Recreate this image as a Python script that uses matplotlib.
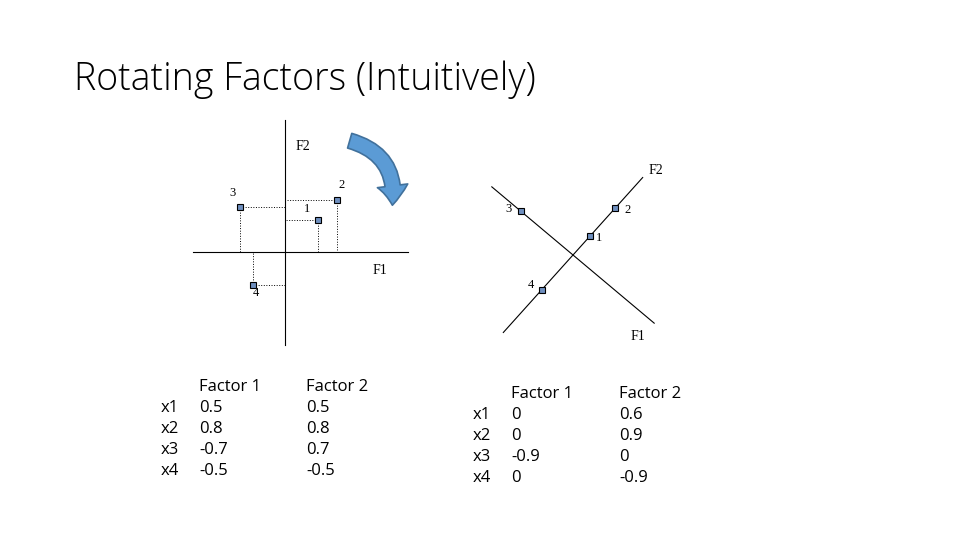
import numpy as np
import matplotlib
matplotlib.use('Agg')
import matplotlib.pyplot as plt

# Daten
variablen = ["x1", "x2", "x3", "x4"]
punkt_namen = ["1", "2", "3", "4"]
faktor1 = [0.5, 0.8, -0.7, -0.5]
faktor2 = [0.5, 0.8, 0.7, -0.5]
faktor1_rot = ["0", "0", "-0.9", "0"]
faktor2_rot = ["0.6", "0.9", "0", "-0.9"]
faktor1_txt = ["0.5", "0.8", "-0.7", "-0.5"]
faktor2_txt = ["0.5", "0.8", "0.7", "-0.5"]
# Lage der Punkte im rotierten Bild
rot_f1_bild = [0.0, 0.0, -0.97, 0.0]
rot_f2_bild = [0.36, 0.9, 0.0, -0.67]

fig = plt.figure(figsize=(9.6, 5.4), dpi=100)
ax = fig.add_axes([0, 0, 1, 1])
ax.set_xlim(0, 960)
ax.set_ylim(540, 0)
ax.axis('off')

fig.text(74 / 960, 1 - 80 / 540, "Rotating Factors (Intuitively)", fontsize=27,
         family='Open Sans', weight='light', va='center', ha='left')

box_fc = '#6F8FBF'
serif = 'Liberation Serif'

# Linkes Diagramm
ox, oy, skala = 285, 252, 65
ax.plot([193, 408], [oy, oy], color='black', lw=0.8)
ax.plot([ox, ox], [120, 345], color='black', lw=0.8)
offs = [(-10, -10), (5, -15), (-7, -14), (3, 8)]
for name, f1, f2, (dx, dy) in zip(punkt_namen, faktor1, faktor2, offs):
    px, py = ox + f1 * skala, oy - f2 * skala
    ax.plot([px, px], [py, oy], color='black', lw=0.7, ls=':')
    ax.plot([px, ox], [py, py], color='black', lw=0.7, ls=':')
    ax.plot(px, py, marker='s', ms=5, mfc=box_fc, mec='black', mew=0.8)
    ax.text(px + dx, py + dy, name, fontsize=9, family=serif, ha='center', va='center')
ax.text(303, 146, "F2", fontsize=10, family=serif, ha='center', va='center')
ax.text(380, 270, "F1", fontsize=10, family=serif, ha='center', va='center')

# Rotationspfeil
ax.annotate('', xy=(392, 208), xytext=(347, 140),
            arrowprops=dict(arrowstyle='simple,head_width=2.2,head_length=1.4,tail_width=1.1',
                            connectionstyle='arc3,rad=-0.45', fc='#5B9BD5', ec='#41719C', lw=1.2))

# Rechtes Diagramm (rotierte Achsen)
rx, ry, rskala = 573, 255, 70
e1 = np.array([0.766, 0.643])
e2 = np.array([0.67, -0.745])
ax.plot([rx - 106 * e1[0], rx + 106 * e1[0]], [ry - 106 * e1[1], ry + 106 * e1[1]], color='black', lw=0.8)
ax.plot([rx - 104 * e2[0], rx + 104 * e2[0]], [ry - 104 * e2[1], ry + 104 * e2[1]], color='black', lw=0.8)
roffs = [(9, 2), (12, 2), (-12, -2), (-11, -5)]
for name, a, b, (dx, dy) in zip(punkt_namen, rot_f1_bild, rot_f2_bild, roffs):
    p = np.array([rx, ry]) + rskala * (a * e1 + b * e2)
    ax.plot(p[0], p[1], marker='s', ms=5, mfc=box_fc, mec='black', mew=0.8)
    ax.text(p[0] + dx, p[1] + dy, name, fontsize=9, family=serif, ha='center', va='center')
ax.text(656, 170, "F2", fontsize=10, family=serif, ha='center', va='center')
ax.text(638, 337, "F1", fontsize=10, family=serif, ha='center', va='center')

# Tabellen
def tabelle(x_var, x_f1, x_f2, y0, f1, f2):
    kw = dict(fontsize=12, family='Open Sans', va='center')
    ax.text(x_f1, y0, "Factor 1", **kw)
    ax.text(x_f2, y0, "Factor 2", **kw)
    for i, v in enumerate(variablen):
        y = y0 + 21 * (i + 1)
        ax.text(x_var, y, v, **kw)
        ax.text(x_f1, y, f1[i], **kw)
        ax.text(x_f2, y, f2[i], **kw)

tabelle(161, 199, 306, 387, faktor1_txt, faktor2_txt)
tabelle(473, 511, 619, 394, faktor1_rot, faktor2_rot)

fig.savefig("out.png", dpi=100)
